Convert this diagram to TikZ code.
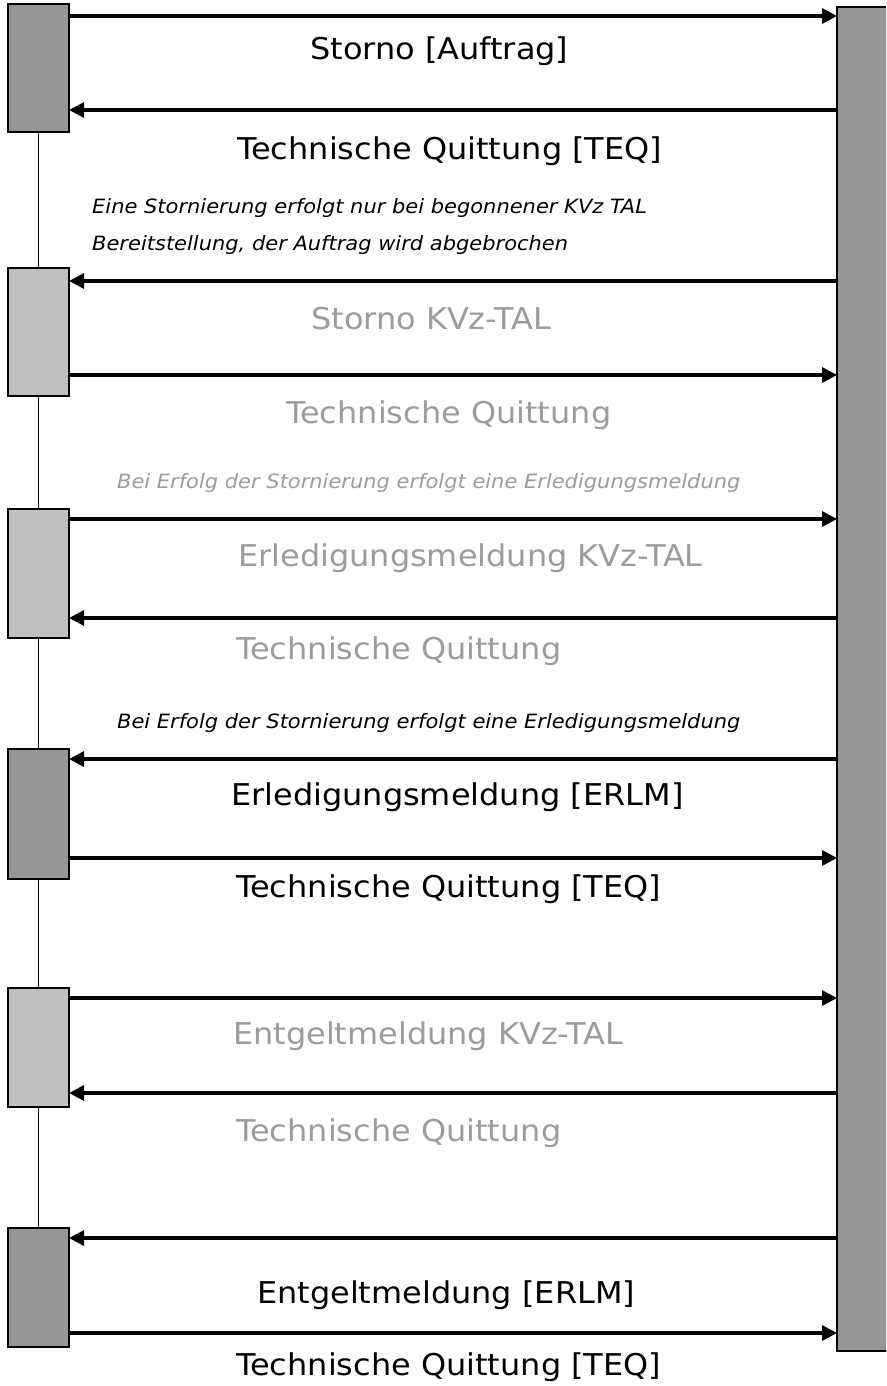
\documentclass[tikz,border=0pt]{standalone}
\usepackage{fontspec}
\setmainfont{DejaVu Sans}[FakeStretch=1.065]
\usetikzlibrary{arrows.meta}
\definecolor{darkbox}{HTML}{969696}
\definecolor{lightbox}{HTML}{C0C0C0}
\definecolor{graytext}{HTML}{9C9C9C}
\tikzset{
  actbox/.style={draw=black,line width=1.4pt,minimum width=61pt,inner sep=0pt,outer sep=0pt},
  dark/.style={actbox,fill=darkbox},
  light/.style={actbox,fill=lightbox},
  msg/.style={line width=3.2pt,-{Triangle[length=15pt,width=15pt]}},
  life/.style={line width=1.3pt},
  big/.style={anchor=base west,inner sep=0pt,font=\fontsize{30pt}{35pt}\selectfont},
  note/.style={anchor=base west,inner sep=0pt,font=\fontsize{19.7pt}{23pt}\selectfont\itshape},
  grey/.style={text=graytext}
}
\begin{document}
\begin{tikzpicture}[x=1pt,y=-1pt]
\clip (0,0) rectangle (886,1386);
\fill[white] (0,0) rectangle (886,1386);
% right bar (its right edge lies beyond the picture)
\node[draw=black,line width=1.4pt,fill=darkbox,minimum width=80pt,minimum height=1344pt,inner sep=0pt,outer sep=0pt] (bar) at (877,679) {};
% activation boxes
\node[dark,minimum height=128pt]  (b1) at (38.5,68) {};
\node[light,minimum height=128pt] (b2) at (38.5,332) {};
\node[light,minimum height=129pt] (b3) at (38.5,573.5) {};
\node[dark,minimum height=130pt]  (b4) at (38.5,814) {};
\node[light,minimum height=119pt] (b5) at (38.5,1047.5) {};
\node[dark,minimum height=119pt]  (b6) at (38.5,1287.5) {};
% lifeline
\draw[life] (b1.south) -- (b2.north);
\draw[life] (b2.south) -- (b3.north);
\draw[life] (b3.south) -- (b4.north);
\draw[life] (b4.south) -- (b5.north);
\draw[life] (b5.south) -- (b6.north);
% messages
\draw[msg] (b1.east |- 0,16)   -- (bar.west |- 0,16);
\draw[msg] (bar.west |- 0,110) -- (b1.east |- 0,110);
\draw[msg] (bar.west |- 0,281) -- (b2.east |- 0,281);
\draw[msg] (b2.east |- 0,375)  -- (bar.west |- 0,375);
\draw[msg] (b3.east |- 0,519)  -- (bar.west |- 0,519);
\draw[msg] (bar.west |- 0,618) -- (b3.east |- 0,618);
\draw[msg] (bar.west |- 0,759) -- (b4.east |- 0,759);
\draw[msg] (b4.east |- 0,858)  -- (bar.west |- 0,858);
\draw[msg] (b5.east |- 0,998)  -- (bar.west |- 0,998);
\draw[msg] (bar.west |- 0,1093) -- (b5.east |- 0,1093);
\draw[msg] (bar.west |- 0,1238) -- (b6.east |- 0,1238);
\draw[msg] (b6.east |- 0,1333) -- (bar.west |- 0,1333);
% labels
\node[big] (t1) at (310,60) {Storno [Auftrag]};
\node[big] (t2) at (237,160) {Technische Quittung [TEQ]};
\node[note] (n1) at (92,213) {Eine Stornierung erfolgt nur bei begonnener KVz TAL};
\node[note] (n2) at (92,250) {Bereitstellung, der Auftrag wird abgebrochen};
\node[big,grey] (t3) at (311,329) {Storno KVz-TAL};
\node[big,grey] (t4) at (286,423) {Technische Quittung};
\node[note,grey] (n3) at (117,488) {Bei Erfolg der Stornierung erfolgt eine Erledigungsmeldung};
\node[big,grey] (t5) at (238,566) {Erledigungsmeldung KVz-TAL};
\node[big,grey] (t6) at (236,659) {Technische Quittung};
\node[note] (n4) at (117,728) {Bei Erfolg der Stornierung erfolgt eine Erledigungsmeldung};
\node[big] (t7) at (231,805) {Erledigungsmeldung [ERLM]};
\node[big] (t8) at (236,897) {Technische Quittung [TEQ]};
\node[big,grey] (t9) at (233,1044) {Entgeltmeldung KVz-TAL};
\node[big,grey] (t10) at (236,1141) {Technische Quittung};
\node[big] (t11) at (257,1303) {Entgeltmeldung [ERLM]};
\node[big] (t12) at (236,1375) {Technische Quittung [TEQ]};
\end{tikzpicture}
\end{document}
